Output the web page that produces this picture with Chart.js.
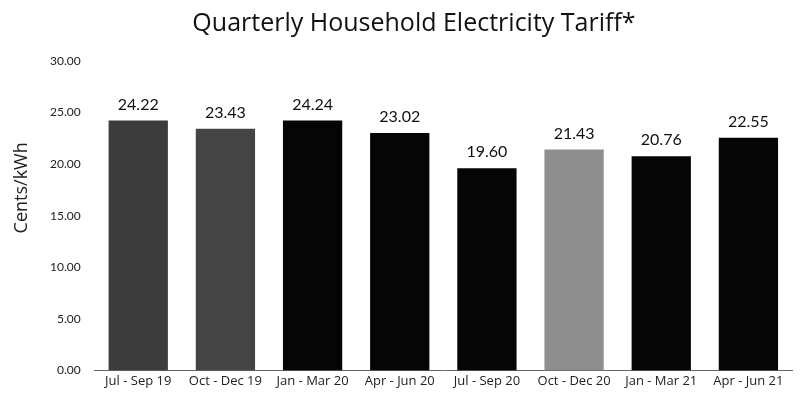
<!DOCTYPE html>
<html><head><meta charset="utf-8">
<script src="https://cdn.jsdelivr.net/npm/chart.js@4/dist/chart.umd.min.js"></script>
<style>html,body{margin:0;padding:0;background:#fff}#w{width:807px;height:396px}</style>
</head><body><div id="w"><canvas id="c" width="807" height="396"></canvas></div>
<script>
const categories = ["Jul - Sep 19","Oct - Dec 19","Jan - Mar 20","Apr - Jun 20","Jul - Sep 20","Oct - Dec 20","Jan - Mar 21","Apr - Jun 21"];
const tariffs = [24.22, 23.43, 24.24, 23.02, 19.60, 21.43, 20.76, 22.55];
const barColors = ["#3c3c3c","#444444","#050505","#050505","#050505","#8e8e8e","#050505","#050505"];
const yTicks = [0,5,10,15,20,25,30];
const yAxisTitle = 'Cents/kWh';

const valueLabels = {
  id:'valueLabels',
  afterDatasetsDraw(chart){
    const ctx = chart.ctx;
    const meta = chart.getDatasetMeta(0);
    ctx.save();
    ctx.font = '16px Lato, "Noto Sans", sans-serif';
    ctx.fillStyle = '#111';
    ctx.textAlign = 'center';
    ctx.textBaseline = 'bottom';
    meta.data.forEach((el,i)=>{
      ctx.fillText(tariffs[i].toFixed(2), el.x, el.y - 8);
    });
    // y axis title, placed a little above the axis middle as in the original
    const ca = chart.chartArea;
    ctx.translate(22, ca.top + (ca.bottom - ca.top) * 0.41);
    ctx.rotate(-Math.PI/2);
    ctx.font = '18px "Open Sans", Lato, sans-serif';
    ctx.fillStyle = '#222';
    ctx.textBaseline = 'middle';
    ctx.fillText(yAxisTitle, 0, 0);
    ctx.restore();
  }
};

new Chart(document.getElementById('c'), {
  type:'bar',
  data:{labels:categories, datasets:[{data:tariffs, backgroundColor:barColors, borderWidth:0, categoryPercentage:0.68, barPercentage:1.0}]},
  options:{
    responsive:false, animation:false,
    layout:{padding:{left:36,right:15,top:0,bottom:4}},
    plugins:{
      legend:{display:false}, tooltip:{enabled:false},
      title:{display:true, text:'Quarterly Household Electricity Tariff*', color:'#111',
        font:{family:'"Open Sans", Lato, sans-serif', size:25, weight:'normal'}, padding:{top:9,bottom:22}}
    },
    scales:{
      x:{grid:{display:false, drawTicks:false}, border:{display:true, color:'#666', dash:[2,2]},
         ticks:{color:'#222', font:{family:'"Open Sans", Lato, sans-serif', size:13}, maxRotation:0, autoSkip:false, padding:3}},
      y:{min:0, max:30, afterBuildTicks(ax){ax.ticks = yTicks.map(v=>({value:v}));},
         grid:{display:false, drawTicks:false}, border:{display:false},
         ticks:{color:'#222', padding:14, font:{family:'Lato, sans-serif', size:12}, callback:v=>Number(v).toFixed(2)},
         title:{display:false}}
    }
  },
  plugins:[valueLabels]
});
</script></body></html>
